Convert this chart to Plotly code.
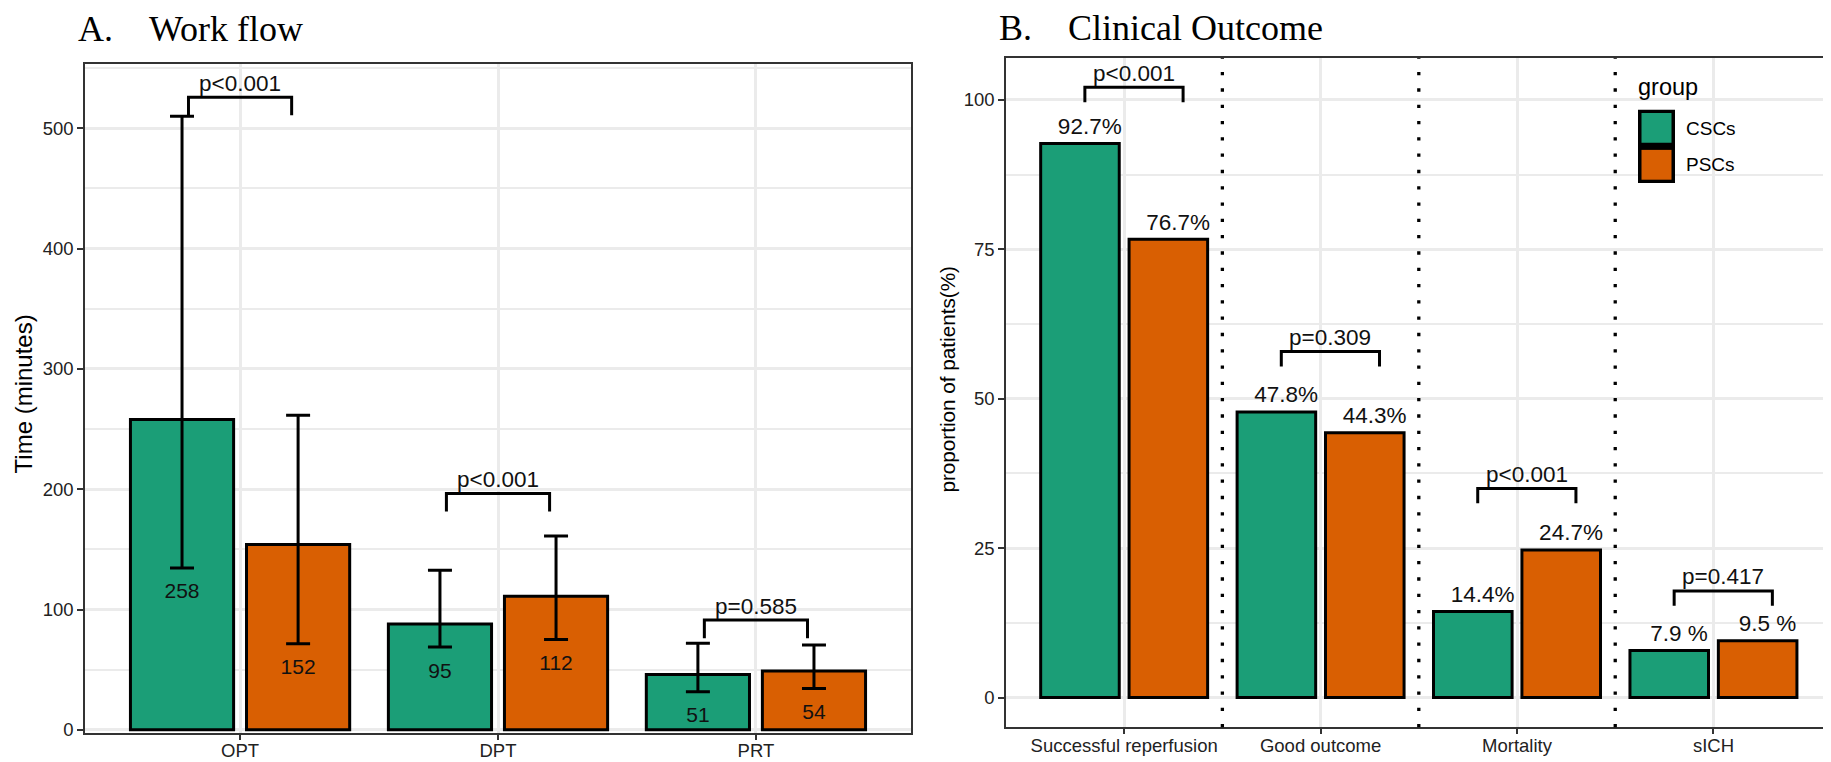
import plotly.graph_objects as go

W, H = 1831, 762
SANS = "Liberation Sans, Arial, sans-serif"
SERIF = "Liberation Serif, Times New Roman, serif"

groups = ["CSCs", "PSCs"]
group_colors = ["#1B9E77", "#D95F02"]

# ---------------- Panel A: Work flow ----------------
a_categories = ["OPT", "DPT", "PRT"]
a_csc = [258, 88, 46]
a_psc = [154, 111, 49]
a_csc_upper = [510, 132.7, 72.0]
a_csc_lower = [134.6, 68.8, 31.7]
a_psc_upper = [261.4, 161.2, 70.6]
a_psc_lower = [71.5, 75.1, 34.4]
a_csc_labels = ["258", "95", "51"]
a_psc_labels = ["152", "112", "54"]
a_pvalues = ["p<0.001", "p<0.001", "p=0.585"]
a_bracket_y = [525.7, 196.4, 91.2]

# ---------------- Panel B: Clinical Outcome ----------------
b_categories = ["Successful reperfusion", "Good outcome", "Mortality", "sICH"]
b_csc = [92.7, 47.8, 14.4, 7.9]
b_psc = [76.7, 44.3, 24.7, 9.5]
b_csc_labels = ["92.7%", "47.8%", "14.4%", "7.9 %"]
b_psc_labels = ["76.7%", "44.3%", "24.7%", "9.5 %"]
b_pvalues = ["p<0.001", "p=0.309", "p<0.001", "p=0.417"]
b_bracket_y = [102.1, 57.9, 35.0, 17.85]

DODGE = 0.225
fig = go.Figure()


def err(vals, up, lo):
    return dict(type="data", symmetric=False,
                array=[u - v for u, v in zip(up, vals)],
                arrayminus=[v - l for v, l in zip(vals, lo)],
                color="black", thickness=3, width=12)


a_idx = list(range(len(a_categories)))
b_idx = list(range(len(b_categories)))

# Panel A bars
for name, col, vals, up, lo in [
    (groups[0], group_colors[0], a_csc, a_csc_upper, a_csc_lower),
    (groups[1], group_colors[1], a_psc, a_psc_upper, a_psc_lower),
]:
    fig.add_trace(go.Bar(x=a_idx, y=vals, name=name, showlegend=False,
                         marker=dict(color=col, line=dict(color="black", width=3)),
                         error_y=err(vals, up, lo), xaxis="x", yaxis="y",
                         hoverinfo="skip"))

# Panel A value labels (placed below lower error cap)
for sign, labels, lo in [(-1, a_csc_labels, a_csc_lower), (1, a_psc_labels, a_psc_lower)]:
    fig.add_trace(go.Scatter(x=[i + sign * DODGE for i in a_idx],
                             y=[l - 21 for l in lo], text=labels, mode="text",
                             textfont=dict(family=SANS, size=21, color="#111111"),
                             showlegend=False, xaxis="x", yaxis="y", hoverinfo="skip"))

# Panel B bars
for name, col, vals in [(groups[0], group_colors[0], b_csc), (groups[1], group_colors[1], b_psc)]:
    fig.add_trace(go.Bar(x=b_idx, y=vals, name=name, showlegend=False,
                         marker=dict(color=col, line=dict(color="black", width=3)),
                         xaxis="x2", yaxis="y2", hoverinfo="skip"))

# Panel B value labels (above bars)
for sign, labels, vals in [(-1, b_csc_labels, b_csc), (1, b_psc_labels, b_psc)]:
    fig.add_trace(go.Scatter(x=[i + sign * DODGE + 0.05 for i in b_idx],
                             y=[v + 2.55 for v in vals], text=labels, mode="text",
                             textfont=dict(family=SANS, size=22.5, color="#111111"),
                             showlegend=False, xaxis="x2", yaxis="y2", hoverinfo="skip"))


# Significance brackets
def bracket(idx, heights, left, right, tip):
    xs, ys = [], []
    for i, h in zip(idx, heights):
        xs += [i + left, i + left, i + right, i + right, None]
        ys += [h - tip, h, h, h - tip, None]
    return xs, ys


xs, ys = bracket(a_idx, a_bracket_y, -0.2, 0.2, 15)
fig.add_trace(go.Scatter(x=xs, y=ys, mode="lines", line=dict(color="black", width=3),
                         showlegend=False, xaxis="x", yaxis="y", hoverinfo="skip"))
xs, ys = bracket(b_idx, b_bracket_y, -0.2, 0.3, 2.5)
fig.add_trace(go.Scatter(x=xs, y=ys, mode="lines", line=dict(color="black", width=3),
                         showlegend=False, xaxis="x2", yaxis="y2", hoverinfo="skip"))

annotations = []
for i, h, p in zip(a_idx, a_bracket_y, a_pvalues):
    annotations.append(dict(x=i, y=h, xref="x", yref="y", text=p, showarrow=False,
                            yanchor="middle", yshift=14,
                            font=dict(family=SANS, size=22.5, color="#111111")))
for i, h, p in zip(b_idx, b_bracket_y, b_pvalues):
    annotations.append(dict(x=i + 0.05, y=h, xref="x2", yref="y2", text=p, showarrow=False,
                            yanchor="middle", yshift=14,
                            font=dict(family=SANS, size=22.5, color="#111111")))

# Panel titles
annotations.append(dict(x=77.3 / W, y=1 - 21 / H, xref="paper", yref="paper",
                        text="A.\u00a0\u00a0\u00a0\u00a0Work flow", showarrow=False,
                        xanchor="left", yanchor="middle", xshift=-9,
                        font=dict(family=SERIF, size=36, color="black")))
annotations.append(dict(x=998.3 / W, y=1 - 20.4 / H, xref="paper", yref="paper",
                        text="B.\u00a0\u00a0\u00a0\u00a0Clinical Outcome", showarrow=False,
                        xanchor="left", yanchor="middle", xshift=-9,
                        font=dict(family=SERIF, size=36, color="black")))

# Axis titles
annotations.append(dict(x=15 / W, y=1 - 390 / H, xref="paper", yref="paper",
                        text="Time (minutes)", textangle=-90, showarrow=False,
                        xanchor="center", yanchor="middle",
                        font=dict(family=SANS, size=24, color="black")))
annotations.append(dict(x=940 / W, y=1 - 375 / H, xref="paper", yref="paper",
                        text="proportion of patients(%)", textangle=-90, showarrow=False,
                        xanchor="center", yanchor="middle",
                        font=dict(family=SANS, size=20.7, color="black")))

# Manual legend (inside panel B)
annotations.append(dict(x=1630 / W, y=1 - 80 / H, xref="paper", yref="paper",
                        text="group", showarrow=False, xanchor="left", yanchor="middle",
                        xshift=-2, font=dict(family=SANS, size=23.5, color="black")))
for lab, yc in zip(groups, [121.7, 158.3]):
    annotations.append(dict(x=1678.3 / W, y=1 - yc / H, xref="paper", yref="paper",
                            text=lab, showarrow=False, xanchor="left", yanchor="middle",
                            xshift=-2, font=dict(family=SANS, size=19, color="black")))

shapes = []
# dotted separators between outcome groups
for k in range(len(b_categories) - 1):
    shapes.append(dict(type="line", xref="x2", yref="y2 domain", x0=k + 0.5, x1=k + 0.5,
                       y0=0, y1=1, line=dict(color="black", width=3.3, dash="3.3px,13px"),
                       layer="above"))


def prect(x0, y0, x1, y1, fill):
    return dict(type="rect", xref="paper", yref="paper", x0=x0 / W, x1=x1 / W,
                y0=1 - y1 / H, y1=1 - y0 / H, fillcolor=fill, line=dict(width=0),
                layer="above")


shapes.append(prect(1630, 102.7, 1667, 176.7, "black"))
shapes.append(prect(1633.5, 106, 1663.5, 136, group_colors[0]))
shapes.append(prect(1633.5, 143.2, 1663.5, 173.3, group_colors[1]))

GRID = "#EBEBEB"
AXC = "#333333"
TICKF = dict(family=SANS, size=18.5, color="#222222")

xcommon = dict(showgrid=True, gridcolor=GRID, gridwidth=2.8, zeroline=False,
               showline=True, linecolor=AXC, linewidth=2, mirror=True,
               ticks="outside", ticklen=5, tickwidth=2.2, tickcolor=AXC,
               tickfont=TICKF, fixedrange=True, ticklabelstandoff=-5)
ycommon = dict(showgrid=True, gridcolor=GRID, gridwidth=2.8, zeroline=False,
               showline=True, linecolor=AXC, linewidth=2, mirror=True,
               ticks="outside", ticklen=6, tickwidth=2.2, tickcolor=AXC,
               tickfont=TICKF, fixedrange=True)

fig.update_layout(
    width=W, height=H, margin=dict(l=0, r=0, t=0, b=0),
    paper_bgcolor="white", plot_bgcolor="white",
    barmode="group", bargap=0.1, bargroupgap=0.1111,
    showlegend=False,
    xaxis=dict(domain=[77.3 / W, 902.7 / W], range=[-0.6, 2.6],
               tickvals=a_idx, ticktext=a_categories, anchor="y", **xcommon),
    yaxis=dict(domain=[1 - 731.7 / H, 1 - 56.7 / H], range=[-2.6, 553.2],
               tick0=0, dtick=100, anchor="x",
               minor=dict(dtick=50, showgrid=True, gridcolor=GRID, gridwidth=1.6, ticks=""),
               **ycommon),
    xaxis2=dict(domain=[998.3 / W, 1823.3 / W], range=[-0.6, 3.6],
                tickvals=b_idx, ticktext=b_categories, anchor="y2", **xcommon),
    yaxis2=dict(domain=[1 - 726 / H, 1 - 50.7 / H], range=[-4.97, 106.97],
                tick0=0, dtick=25, anchor="x2",
                minor=dict(dtick=12.5, showgrid=True, gridcolor=GRID, gridwidth=1.6, ticks=""),
                **ycommon),
    annotations=annotations,
    shapes=shapes,
)

fig.write_html("out.html")
